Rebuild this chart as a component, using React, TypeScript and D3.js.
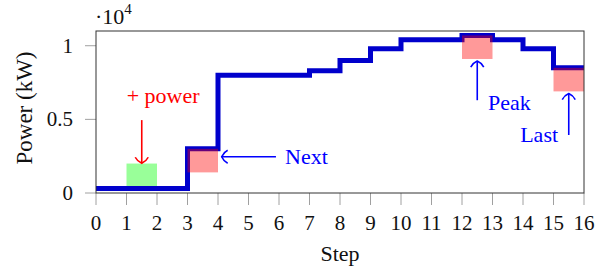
import React from 'react';
import * as d3 from 'd3';

// Power per step (value holds from step i to i+1)
const steps = [0, 1, 2, 3, 4, 5, 6, 7, 8, 9, 10, 11, 12, 13, 14, 15, 16];
const power = [300, 300, 300, 3000, 8000, 8000, 8000, 8300, 9000, 9800, 10400, 10400, 10700, 10400, 9800, 8500];

const xTicks = [0, 1, 2, 3, 4, 5, 6, 7, 8, 9, 10, 11, 12, 13, 14, 15, 16];
const yTicks = [0, 5000, 10000];
const yTickLabels = ['0', '0.5', '1'];

// highlighted boxes [x0, x1, y0, y1]
const greenBoxes = [[1, 2, 400, 2000]];
const redBoxes = [[3, 4, 1400, 3000], [12, 13, 9100, 10700], [15, 16, 6900, 8500]];

// annotations in data units
const annotations = [
  { label: '+ power', color: '#ff0000', from: [1.5, 4950], to: [1.5, 2020], text: [2.2, 6080], anchor: 'middle' },
  { label: 'Next', color: '#0000ff', from: [5.9, 2460], to: [4.12, 2460], text: [6.2, 1970], anchor: 'start' },
  { label: 'Peak', color: '#0000ff', from: [12.5, 6300], to: [12.5, 8960], text: [12.85, 5640], anchor: 'start' },
  { label: 'Last', color: '#0000ff', from: [15.5, 3940], to: [15.5, 6750], text: [15.15, 3470], anchor: 'end' },
];

const W = 616;
const H = 276;
const left = 96, right = 584, top = 31, bottom = 193;
const font = '"Liberation Serif", "Times New Roman", serif';

const arrowHead = (tx: number, ty: number, fx: number, fy: number) => {
  const len = Math.hypot(tx - fx, ty - fy);
  const dx = (tx - fx) / len, dy = (ty - fy) / len;
  const nx = -dy, ny = dx;
  const pt = (a: number, b: number) => `${tx + a * dx + b * nx},${ty + a * dy + b * ny}`;
  return `M${pt(-6, 6.5)} Q${pt(-2, 4.5)} ${pt(0, 0)} Q${pt(-2, -4.5)} ${pt(-6, -6.5)}`;
};

export default function App() {
  const x = d3.scaleLinear().domain([0, 16]).range([left, right]);
  const y = d3.scaleLinear().domain([0, 11000]).range([bottom, top]);

  const pts: [number, number][] = steps.map((s, i) => [s, power[Math.min(i, power.length - 1)]]);
  const line = d3.line<[number, number]>()
    .x(d => x(d[0]))
    .y(d => y(d[1]))
    .curve(d3.curveStepAfter);

  const box = (b: number[], fill: string, i: number) => (
    <rect key={i} x={x(b[0])} y={y(b[3])} width={x(b[1]) - x(b[0])} height={y(b[2]) - y(b[3])}
      fill={fill} fillOpacity={0.4} />
  );

  return (
    <svg width={W} height={H} style={{ position: 'absolute', left: 0, top: 0, background: '#fff' }}
      fontFamily={font}>
      {/* ticks */}
      {xTicks.map(t => (
        <g key={'x' + t}>
          <line x1={x(t)} x2={x(t)} y1={bottom} y2={bottom + 12} stroke="#a0a0a0" strokeWidth={1} />
          <text x={x(t)} y={230} fontSize={21} textAnchor="middle" fill="#111">{t}</text>
        </g>
      ))}
      {yTicks.map((t, i) => (
        <g key={'y' + t}>
          <line x1={left - 11} x2={left} y1={y(t)} y2={y(t)} stroke="#a0a0a0" strokeWidth={1} />
          <text x={73} y={y(t) + 7} fontSize={21} textAnchor="end" fill="#111">{yTickLabels[i]}</text>
        </g>
      ))}

      {greenBoxes.map((b, i) => box(b, '#00ff00', i))}

      <path d={line(pts) || ''} fill="none" stroke="#0000cc" strokeWidth={5} />

      {redBoxes.map((b, i) => box(b, '#ff0000', i))}

      <rect x={left} y={top} width={right - left} height={bottom - top} fill="none" stroke="#333" strokeWidth={1} />

      {annotations.map(a => {
        const fx = x(a.from[0]), fy = y(a.from[1]);
        const tx = x(a.to[0]), ty = y(a.to[1]);
        return (
          <g key={a.label}>
            <line x1={fx} y1={fy} x2={tx} y2={ty} stroke={a.color} strokeWidth={1.6} />
            <path d={arrowHead(tx, ty, fx, fy)} fill="none" stroke={a.color} strokeWidth={1.6} />
            <text x={x(a.text[0])} y={y(a.text[1])} fontSize={22} fill={a.color}
              textAnchor={a.anchor as any}>{a.label}</text>
          </g>
        );
      })}

      {/* labels */}
      <text x={x(8)} y={261} fontSize={22} textAnchor="middle" fill="#111">Step</text>
      <text transform={`translate(32,${(top + bottom) / 2 - 4}) rotate(-90)`} fontSize={23}
        textAnchor="middle" fill="#111">Power (kW)</text>
      <text x={95} y={24} fontSize={22} fill="#111">·10<tspan dy={-10} fontSize={15}>4</tspan></text>
    </svg>
  );
}
